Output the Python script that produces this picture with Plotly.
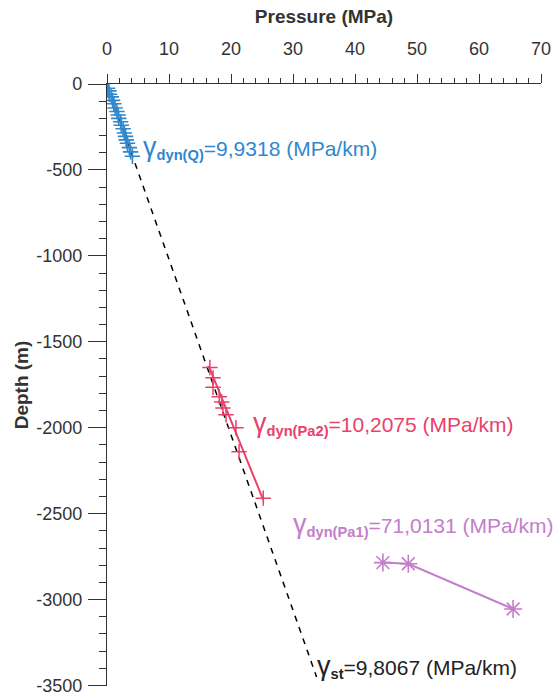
import plotly.graph_objects as go

# ---- data ----
q_pressure = [0.1, 0.3, 0.4, 0.7, 0.9, 1.1, 1.3, 1.6, 1.8, 1.9, 2.2, 2.3, 2.6, 2.8, 3.0, 3.1, 3.3, 3.6, 3.8, 4.1]
q_depth = [-25, -40, -60, -75, -95, -115, -140, -160, -180, -200, -220, -240, -260, -285, -305, -325, -345, -370, -395, -420]

pa2_pressure = [16.6, 17.1, 17.1, 18.1, 18.5, 18.7, 19.2, 20.8, 21.3, 25.2]
pa2_depth = [-1650, -1710, -1765, -1820, -1850, -1885, -1925, -2000, -2140, -2410]
pa2_fit_pressure = [16.4, 25.2]
pa2_fit_depth = [-1640, -2420]

pa1_pressure = [44.5, 48.6, 65.5]
pa1_depth = [-2785, -2792, -3055]

st_pressure = [0.0, 33.8]
st_depth = [0, -3450]

x_ticks = [0, 10, 20, 30, 40, 50, 60, 70]
x_ticktext = ["0", "10", "20", "30", "40", "50", "60", "70"]
y_ticks = [0, -500, -1000, -1500, -2000, -2500, -3000, -3500]
y_ticktext = ["0", "-500", "-1000", "-1500", "-2000", "-2500", "-3000", "-3500"]

BLUE = "#2f88cf"
RED = "#e8416a"
PURPLE = "#c27ec9"
AXC = "#333333"
FONT = "Arial, Liberation Sans, sans-serif"

fig = go.Figure()
fig.add_trace(go.Scatter(x=st_pressure, y=st_depth, mode="lines",
                         line=dict(color="black", width=1.5, dash="6px,6px")))
fig.add_trace(go.Scatter(x=q_pressure, y=q_depth, mode="markers",
                         marker=dict(symbol="cross-thin", size=11, line=dict(color=BLUE, width=1.6), color=BLUE)))
fig.add_trace(go.Scatter(x=pa2_fit_pressure, y=pa2_fit_depth, mode="lines",
                         line=dict(color=RED, width=2)))
fig.add_trace(go.Scatter(x=pa2_pressure, y=pa2_depth, mode="markers",
                         marker=dict(symbol="cross-thin", size=11, line=dict(color=RED, width=1.5), color=RED)))
fig.add_trace(go.Scatter(x=pa1_pressure, y=pa1_depth, mode="lines+markers",
                         line=dict(color=PURPLE, width=2),
                         marker=dict(symbol="asterisk", size=15, line=dict(color=PURPLE, width=1.6), color=PURPLE)))

def ann(x, y, text, color):
    fig.add_annotation(x=x, y=y, xref="x", yref="y", text=text, showarrow=False,
                       xanchor="left", yanchor="middle", font=dict(family=FONT, size=21, color=color))

g = '<span style="font-size:27px">γ</span>'
ann(5.5, -372, g + "<sub><b>dyn(Q)</b></sub>=9,9318 (MPa/km)", BLUE)
ann(23.3, -1975, g + "<sub><b>dyn(Pa2)</b></sub>=10,2075 (MPa/km)", RED)
ann(29.6, -2562, g + "<sub><b>dyn(Pa1)</b></sub>=71,0131 (MPa/km)", PURPLE)
ann(33.6, -3392, g + "<sub><b>st</b></sub>=9,8067 (MPa/km)", "#222222")

fig.update_layout(
    width=553, height=695,
    margin=dict(l=107, r=12, t=84, b=9, autoexpand=False),
    paper_bgcolor="white", plot_bgcolor="white",
    showlegend=False,
    font=dict(family=FONT, size=18, color=AXC),
    xaxis=dict(range=[0, 70], side="top", tickvals=x_ticks, ticktext=x_ticktext,
               ticks="outside", ticklen=9, tickwidth=1.2, tickcolor=AXC,
               showline=True, linecolor=AXC, linewidth=1.2, automargin=False,
               showgrid=False, zeroline=False, tickfont=dict(size=18), ticklabelstandoff=12,
               ticklabeloverflow="allow",
               minor=dict(dtick=2, ticks="outside", ticklen=5, tickcolor=AXC, showgrid=False),
               title=dict(text="<b>Pressure (MPa)</b>", font=dict(size=19), standoff=10)),
    yaxis=dict(range=[-3503, 0], tickvals=y_ticks, ticktext=y_ticktext,
               ticks="outside", ticklen=18, tickwidth=1.2, tickcolor=AXC,
               showline=True, linecolor=AXC, linewidth=1.2, automargin=False,
               showgrid=False, zeroline=False, tickfont=dict(size=18), ticklabelstandoff=2,
               ticklabeloverflow="allow",
               minor=dict(dtick=100, ticks="outside", ticklen=7, tickcolor=AXC, showgrid=False),
               title=dict(text="<b>Depth (m)</b>", font=dict(size=19), standoff=2)),
)

fig.write_html("out.html", config={"displayModeBar": False},
               post_script="document.body.style.margin='0';document.body.style.overflow='hidden';")
